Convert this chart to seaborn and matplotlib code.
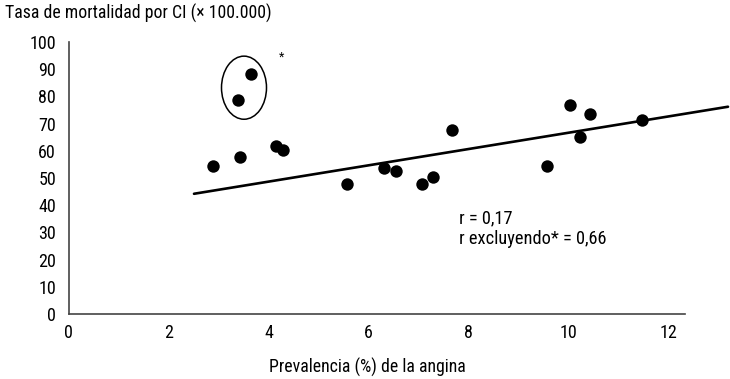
import matplotlib
matplotlib.use('Agg')
import matplotlib.pyplot as plt
from matplotlib.patches import Ellipse
import seaborn as sns
import pandas as pd

# Prevalencia de la angina (%) y tasa de mortalidad por CI
prevalencia = [2.88, 3.42, 3.39, 3.65, 4.14, 4.28, 5.57, 6.30, 6.54,
               7.06, 7.28, 7.67, 9.56, 10.03, 10.22, 10.42, 11.46]
mortalidad = [54.4, 57.7, 78.6, 88.2, 61.7, 60.4, 47.9, 53.6, 52.5,
              47.7, 50.5, 67.5, 54.5, 76.7, 65.2, 73.5, 71.4]

# Recta de tendencia (extremos)
recta_x = [2.51, 13.19]
recta_y = [44.2, 76.2]

x_ticks = [0, 2, 4, 6, 8, 10, 12]
y_ticks = [0, 10, 20, 30, 40, 50, 60, 70, 80, 90, 100]

df = pd.DataFrame({'prev': prevalencia, 'mort': mortalidad})
df_recta = pd.DataFrame({'x': recta_x, 'y': recta_y})

sns.set_style('white')
plt.rcParams['font.family'] = ['Liberation Sans Narrow', 'Roboto Condensed',
                               'Liberation Sans', 'DejaVu Sans']
plt.rcParams['text.color'] = 'black'

fig = plt.figure(figsize=(7.30, 3.79), dpi=100)
ax = fig.add_axes([68.5 / 730, 65 / 379, 661.5 / 730, 272 / 379])

sns.lineplot(data=df_recta, x='x', y='y', color='black', linewidth=1.9, ax=ax)
sns.scatterplot(data=df, x='prev', y='mort', color='black', s=80,
                edgecolor='black', linewidth=0, ax=ax, zorder=3)

# elipse alrededor de los puntos excluidos
ax.add_patch(Ellipse((3.51, 83.2), 0.9, 23.2, fill=False,
                     edgecolor='black', linewidth=1.1))
ax.text(4.26, 94.4, '*', fontsize=9, ha='center', va='center')

ax.text(7.81, 31.3, 'r = 0,17\nr excluyendo* = 0,66', fontsize=13.2,
        ha='left', va='center', linespacing=1.15)

ax.set_xlim(0, 13.23)
ax.set_ylim(0, 100)
ax.set_xticks(x_ticks)
ax.set_yticks(y_ticks)
ax.tick_params(axis='both', length=0, labelsize=13, colors='black')
ax.tick_params(axis='x', pad=7)
ax.tick_params(axis='y', pad=9)
ax.set_xlabel('')
ax.set_ylabel('')

for s in ['top', 'right']:
    ax.spines[s].set_visible(False)
for s in ['left', 'bottom']:
    ax.spines[s].set_color('#444444')
    ax.spines[s].set_linewidth(1.2)
ax.spines['bottom'].set_bounds(0, 12.33)

fig.text(5 / 730, 1 - 13 / 379, 'Tasa de mortalidad por CI (\u00d7 100.000)',
         fontsize=12.8, ha='left', va='center')
fig.text(367 / 730, 1 - 367 / 379, 'Prevalencia (%) de la angina',
         fontsize=12.8, ha='center', va='center')

fig.savefig('out.png', dpi=100)
